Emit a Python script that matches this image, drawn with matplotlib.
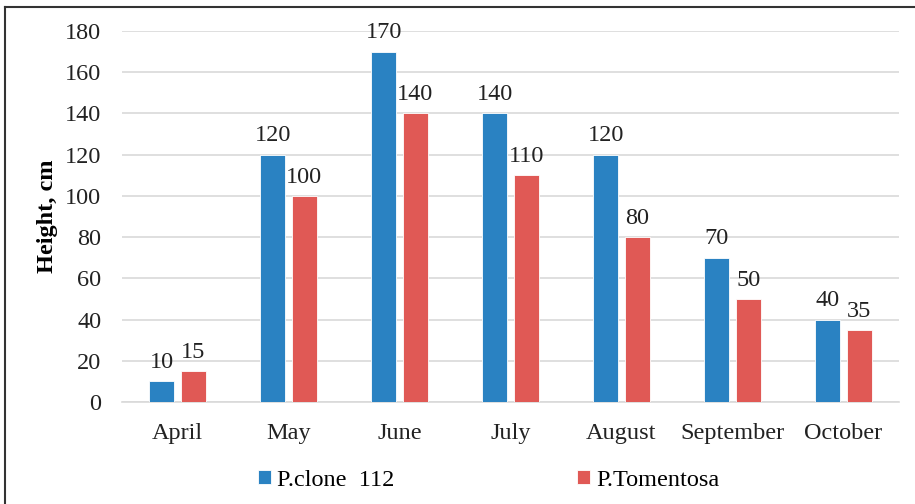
import matplotlib.pyplot as plt
import matplotlib.lines as mlines
import numpy as np

months = ['April', 'May', 'June', 'July', 'August', 'September', 'October']
clone_112 = [10, 120, 170, 140, 120, 70, 40]
tomentosa = [15, 100, 140, 110, 80, 50, 35]
yticks = [0, 20, 40, 60, 80, 100, 120, 140, 160, 180]

plt.rcParams['font.family'] = ['Liberation Serif', 'DejaVu Serif']

blue = '#2a82c2'
red = '#e05955'
fs = 17.5

fig = plt.figure(figsize=(9.15, 5.04), dpi=100)
ax = fig.add_axes([122 / 915, 1 - 402 / 504, 777 / 915, 371 / 504])

x = np.arange(len(months))
w = 0.225
off = 0.142
b1 = ax.bar(x - off, clone_112, w, color=blue, edgecolor='white', linewidth=0.6,
            label='P.clone  112', zorder=3)
b2 = ax.bar(x + off, tomentosa, w, color=red, edgecolor='white', linewidth=0.6,
            label='P.Tomentosa', zorder=3)
ax.bar_label(b1, padding=6, fontsize=fs, color='#222222')
ax.bar_label(b2, padding=6, fontsize=fs, color='#222222')

ax.set_xlim(-0.5, len(months) - 0.5)
ax.set_ylim(0, 180)
ax.set_yticks(yticks)
ax.set_xticks(x)
ax.set_xticklabels(months)
ax.tick_params(axis='both', length=0, labelsize=fs, colors='#222222')
ax.tick_params(axis='x', pad=15)
ax.tick_params(axis='y', pad=15)
ax.grid(axis='y', color='#d9d9d9', linewidth=1.2, zorder=0)
for s in ['top', 'right', 'left']:
    ax.spines[s].set_visible(False)
ax.spines['bottom'].set_color('#d9d9d9')
ax.spines['bottom'].set_linewidth(1.2)
ax.set_ylabel('Height, cm', fontsize=fs, fontweight='bold', labelpad=5)

fig.legend(handles=[b1, b2], loc='center', bbox_to_anchor=(0.534, 1 - 480 / 504),
           ncol=2, frameon=False, fontsize=fs, handlelength=0.55, handleheight=0.55,
           handletextpad=0.25, columnspacing=7.5)

# outer frame (left and top only)
fig.add_artist(mlines.Line2D([5 / 915, 5 / 915], [0, 1 - 7 / 504], color='#333333', lw=1.5))
fig.add_artist(mlines.Line2D([5 / 915, 1], [1 - 7 / 504, 1 - 7 / 504], color='#333333', lw=1.5))

fig.savefig('out.png', dpi=100)
